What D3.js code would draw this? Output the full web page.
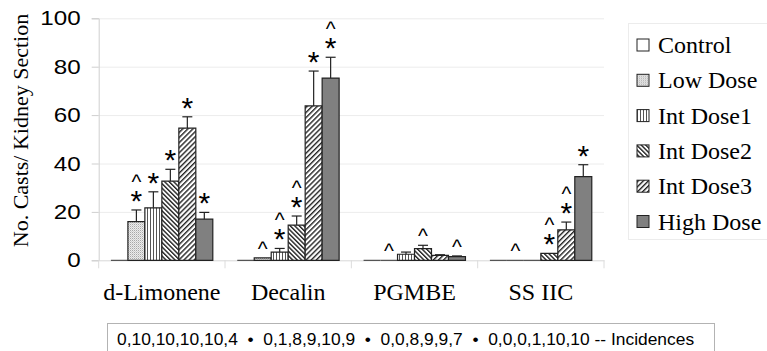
<!DOCTYPE html>
<html>
<head>
<meta charset="utf-8">
<script src="https://cdn.jsdelivr.net/npm/d3@7"></script>
<style>
  body { margin: 0; background: #fff; }
  svg { display: block; }
</style>
</head>
<body>
<svg id="chart" width="767" height="351"></svg>
<script>
const categories = ["d-Limonene", "Decalin", "PGMBE", "SS IIC"];
const doses = ["Control", "Low Dose", "Int Dose1", "Int Dose2", "Int Dose3", "High Dose"];

// mean casts per kidney section, one array per dose group (order = categories)
const controlValues = [0, 0, 0, 0];
const lowDoseValues = [16.0, 1.0, 0, 0];
const intDose1Values = [21.7, 3.4, 2.5, 0];
const intDose2Values = [32.7, 14.5, 4.8, 2.9];
const intDose3Values = [54.6, 63.8, 2.0, 12.6];
const highDoseValues = [17.0, 75.3, 1.5, 34.6];

// upper error bar length
const controlErrors = [0, 0, 0, 0];
const lowDoseErrors = [4.8, 0, 0, 0];
const intDose1Errors = [6.6, 1.5, 0.9, 0];
const intDose2Errors = [4.9, 3.8, 1.4, 0];
const intDose3Errors = [4.7, 14.4, 0.3, 3.2];
const highDoseErrors = [2.8, 8.6, 0.3, 4.9];

// significance marks: "*" , "^" or "*^" (^ stacked above *)
const controlMarks = ["", "", "", ""];
const lowDoseMarks = ["*^", "^", "^", "^"];
const intDose1Marks = ["*", "*^", "", ""];
const intDose2Marks = ["*", "*^", "^", "*^"];
const intDose3Marks = ["*", "*", "", "*^"];
const highDoseMarks = ["*", "*^", "^", "*"];

const yTicks = [0, 20, 40, 60, 80, 100];
const incidences = ["0,10,10,10,10,4", "0,1,8,9,10,9", "0,0,8,9,9,7", "0,0,0,1,10,10"];

const seriesValues = [controlValues, lowDoseValues, intDose1Values, intDose2Values, intDose3Values, highDoseValues];
const seriesErrors = [controlErrors, lowDoseErrors, intDose1Errors, intDose2Errors, intDose3Errors, highDoseErrors];
const seriesMarks = [controlMarks, lowDoseMarks, intDose1Marks, intDose2Marks, intDose3Marks, highDoseMarks];

const svg = d3.select("#chart");
const plotLeft = 98.7, plotRight = 604, plotTop = 18.3, plotBottom = 260.3;
const serif = "'Liberation Serif', 'Times New Roman', serif";
const sans = "'Liberation Sans', Arial, sans-serif";

// fill patterns
const defs = svg.append("defs");
const fills = ["#ffffff", "url(#p-low)", "url(#p-int1)", "url(#p-int2)", "url(#p-int3)", "#808080"];

const pLow = defs.append("pattern").attr("id", "p-low")
    .attr("patternUnits", "userSpaceOnUse").attr("width", 2).attr("height", 2);
pLow.append("rect").attr("width", 2).attr("height", 2).attr("fill", "#ececec");
pLow.append("rect").attr("width", 1).attr("height", 1).attr("fill", "#a8a8a8");
pLow.append("rect").attr("x", 1).attr("y", 1).attr("width", 1).attr("height", 1).attr("fill", "#cfcfcf");

const pInt1 = defs.append("pattern").attr("id", "p-int1")
    .attr("patternUnits", "userSpaceOnUse").attr("width", 3).attr("height", 3);
pInt1.append("rect").attr("width", 3).attr("height", 3).attr("fill", "#ffffff");
pInt1.append("rect").attr("width", 1).attr("height", 3).attr("fill", "#555");

const pInt2 = defs.append("pattern").attr("id", "p-int2")
    .attr("patternUnits", "userSpaceOnUse").attr("width", 3.2).attr("height", 4)
    .attr("patternTransform", "rotate(-45)");
pInt2.append("rect").attr("width", 3.2).attr("height", 4).attr("fill", "#ffffff");
pInt2.append("rect").attr("width", 1.4).attr("height", 4).attr("fill", "#222");

const pInt3 = defs.append("pattern").attr("id", "p-int3")
    .attr("patternUnits", "userSpaceOnUse").attr("width", 3.6).attr("height", 4)
    .attr("patternTransform", "rotate(45)");
pInt3.append("rect").attr("width", 3.6).attr("height", 4).attr("fill", "#ffffff");
pInt3.append("rect").attr("width", 1.4).attr("height", 4).attr("fill", "#222");

// scales
const x0 = d3.scaleBand().domain(categories).range([plotLeft, plotRight]);
const x1 = d3.scaleBand().domain(doses).range([0, x0.bandwidth()]).paddingInner(0).paddingOuter(0.72);
const y = d3.scaleLinear().domain([0, 100]).range([plotBottom, plotTop]);

// gridlines
svg.append("g").selectAll("line")
    .data(yTicks.slice(1))
    .join("line")
    .attr("x1", plotLeft).attr("x2", plotRight)
    .attr("y1", d => y(d) + 0.5).attr("y2", d => y(d) + 0.5)
    .attr("stroke", "#ececec");

// y axis
const yAxis = svg.append("g")
    .attr("transform", `translate(${plotLeft},0)`)
    .call(d3.axisLeft(y).tickValues(yTicks).tickSize(7).tickPadding(11));
yAxis.select(".domain").attr("stroke", "#cfcfcf");
yAxis.selectAll(".tick line").attr("stroke", "#cfcfcf");
yAxis.selectAll(".tick text")
    .attr("font-family", sans)
    .attr("font-size", 20.5).attr("fill", "#000")
    .each(function () {
        // the reference tick digits are drawn wide
        const w = this.getComputedTextLength();
        d3.select(this).attr("textLength", w * 1.18).attr("lengthAdjust", "spacingAndGlyphs");
    });

// x axis
const xAxis = svg.append("g")
    .attr("transform", `translate(0,${plotBottom})`)
    .call(d3.axisBottom(x0).tickSize(0).tickFormat(""));
xAxis.select(".domain").attr("stroke", "#d8d8d8");
svg.append("g").selectAll("line")
    .data(categories.concat(["end"]))
    .join("line")
    .attr("x1", (d, i) => i < categories.length ? x0(d) : plotRight)
    .attr("x2", (d, i) => i < categories.length ? x0(d) : plotRight)
    .attr("y1", plotBottom).attr("y2", plotBottom + 8)
    .attr("stroke", "#dcdcdc");

svg.append("g").selectAll("text")
    .data(categories)
    .join("text")
    .attr("x", d => x0(d) + x0.bandwidth() / 2)
    .attr("y", 300)
    .attr("text-anchor", "middle")
    .attr("font-family", serif)
    .attr("font-size", 24)
    .text(d => d);

// y title
svg.append("text")
    .attr("transform", "translate(28,130.5) rotate(-90)")
    .attr("text-anchor", "middle")
    .attr("font-family", serif)
    .attr("font-size", 22)
    .text("No. Casts/ Kidney Section");

// bars
const barData = [];
doses.forEach((dose, s) => {
    categories.forEach((cat, c) => {
        barData.push({
            cat: cat, dose: dose, s: s,
            value: seriesValues[s][c], err: seriesErrors[s][c], mark: seriesMarks[s][c]
        });
    });
});

const bars = svg.append("g");
bars.selectAll("path")
    .data(barData)
    .join("path")
    .attr("d", d => {
        const bx = x0(d.cat) + x1(d.dose), bw = x1.bandwidth();
        const y0 = y(0), y1v = y(d.value);
        return `M${bx},${y0}L${bx},${y1v}L${bx + bw},${y1v}L${bx + bw},${y0}Z`;
    })
    .attr("fill", d => fills[d.s])
    .attr("stroke", d => d.value === 0 ? "#555" : "#222")
    .attr("stroke-width", 1.2);

// error bars
const errs = svg.append("g").attr("stroke", "#222").attr("stroke-width", 1.2);
barData.filter(d => d.err > 0).forEach(d => {
    const cx = x0(d.cat) + x1(d.dose) + x1.bandwidth() / 2;
    errs.append("line").attr("x1", cx).attr("x2", cx).attr("y1", y(d.value)).attr("y2", y(d.value + d.err));
    errs.append("line").attr("x1", cx - 5).attr("x2", cx + 5).attr("y1", y(d.value + d.err)).attr("y2", y(d.value + d.err));
});

// significance marks (one text per bar, ^ stacked over * with tspans)
const marks = svg.append("g")
    .attr("font-family", sans)
    .attr("text-anchor", "middle");
barData.filter(d => d.mark !== "").forEach(d => {
    const cx = x0(d.cat) + x1(d.dose) + x1.bandwidth() / 2;
    const topY = y(d.value + d.err);
    const t = marks.append("text").attr("x", cx);
    if (d.mark.includes("*")) {
        const starY = topY - 16;
        if (d.mark.includes("^")) {
            t.append("tspan").attr("x", cx).attr("y", starY - 15 + 10).attr("font-size", 21).text("^");
        }
        t.append("tspan").attr("x", cx).attr("y", starY + 17).attr("font-size", 30).text("*");
    } else {
        t.append("tspan").attr("x", cx).attr("y", topY - 12 + 10).attr("font-size", 21).text("^");
    }
});

// legend
const legend = svg.append("g");
legend.append("rect")
    .attr("x", 628.5).attr("y", 23.5).attr("width", 150).attr("height", 216)
    .attr("fill", "#fff").attr("stroke", "#ececec");
const items = legend.selectAll("g.item")
    .data(doses)
    .join("g")
    .attr("class", "item")
    .attr("transform", (d, i) => `translate(637,${45 + i * 35.3})`);
items.append("rect")
    .attr("x", 0).attr("y", -6).attr("width", 12).attr("height", 12)
    .attr("fill", (d, i) => fills[i])
    .attr("stroke", "#222").attr("stroke-width", 1);
items.append("text")
    .attr("x", 21).attr("y", 8)
    .attr("font-family", serif)
    .attr("font-size", 24)
    .text(d => d);

// incidences box
svg.append("rect")
    .attr("x", 107.5).attr("y", 323.5).attr("width", 607).attr("height", 40)
    .attr("fill", "none").attr("stroke", "#666").attr("stroke-dasharray", "1,1");
svg.append("text")
    .attr("x", 117).attr("y", 345)
    .attr("font-family", sans)
    .attr("font-size", 17.4)
    .style("white-space", "pre")
    .text(incidences.join("  \u2022  ") + " -- Incidences");
</script>
</body>
</html>
